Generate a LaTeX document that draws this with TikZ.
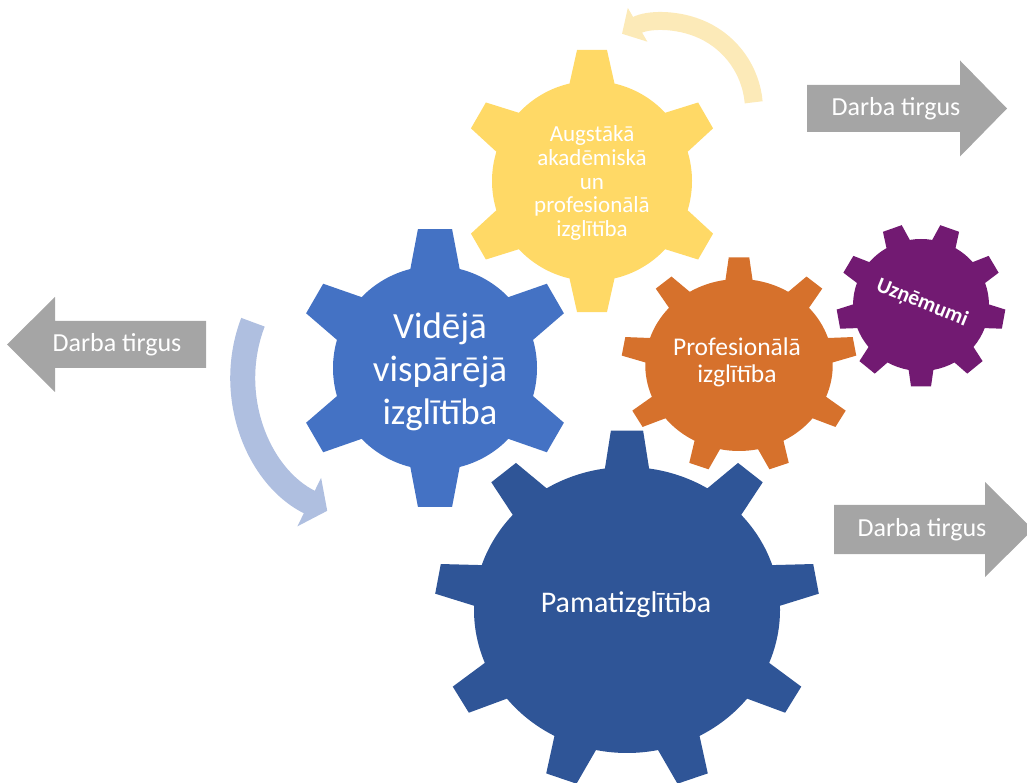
\documentclass[tikz,border=0pt]{standalone}
\usepackage{fontspec}
\setmainfont{Carlito}
\usetikzlibrary{arrows.meta,calc}
\definecolor{pamatblue}{HTML}{2F5597}
\definecolor{videjablue}{HTML}{4472C4}
\definecolor{augstyellow}{HTML}{FFD966}
\definecolor{proforange}{HTML}{D6712C}
\definecolor{uznpurple}{HTML}{721A72}
\definecolor{tirgusgray}{HTML}{A5A5A5}
\definecolor{lightblue}{HTML}{AFBFE0}
\definecolor{lightyellow}{HTML}{FCEAB8}
% teeth, first tooth angle, body radius, outer radius, base half angle, tip half angle
\newcommand{\gearpath}[6]{%
  (#2-#5:#3)
  \foreach \k [evaluate=\k as \a using #2+(\k-1)*360/#1,
               evaluate=\k as \b using #2+\k*360/#1] in {1,...,#1}
  { -- (\a-#6:#4) -- (\a+#6:#4) -- (\a+#5:#3)
    arc[start angle=\a+#5, end angle=\b-#5, radius=#3] }
  -- cycle}
% tail x, head base x, tip x, mid y, body half height, head half height
\newcommand{\tirguspath}[6]{%
  (#1,#4-#5) -- (#2,#4-#5) -- (#2,#4-#6) -- (#3,#4)
  -- (#2,#4+#6) -- (#2,#4+#5) -- (#1,#4+#5) -- cycle}
\tikzset{
  gearlabel/.style={text=white, align=center, inner sep=0pt},
  tirguslabel/.style={text=white, inner sep=0pt, font=\fontsize{26}{31}\selectfont},
  swirl/.style={line width=#1pt}
}

\begin{document}
\begin{tikzpicture}[x=1pt,y=1pt]
  \useasboundingbox (0,0) rectangle (1027,782);
  \coordinate (pc) at (627,172);
  \coordinate (vc) at (435,414);
  \coordinate (ac) at (592,601);
  \coordinate (oc) at (739,417);
  \coordinate (uc) at (921,477);

  \fill[tirgusgray] \tirguspath{206}{55}{7}{437.5}{23.5}{47.5};
  \fill[tirgusgray] \tirguspath{807}{960}{1007}{673.5}{23.5}{48};
  \fill[tirgusgray] \tirguspath{834}{985}{1033}{252.5}{24.5}{47.5};

  \begin{scope}[shift={(pc)}, xscale=1.07]
    \fill[pamatblue] \gearpath{9}{90}{143}{180}{8.3}{4.8};
  \end{scope}
  \begin{scope}[shift={(vc)}]
    \fill[videjablue] \gearpath{6}{90}{102}{140}{14}{7};
  \end{scope}
  \begin{scope}[shift={(ac)}]
    \fill[augstyellow] \gearpath{6}{90}{100}{132}{13}{6.5};
  \end{scope}
  \begin{scope}[shift={(oc)}, xscale=1.09]
    \fill[proforange] \gearpath{9}{90}{86}{108}{8.3}{5};
  \end{scope}
  \begin{scope}[shift={(uc)}, xscale=1.03]
    \fill[uznpurple] \gearpath{9}{30}{66}{82}{10.5}{6.8};
  \end{scope}

  \draw[lightblue, swirl=25, -{Triangle[length=20pt,width=53pt]}]
    ($(393,406)+(159:150)$) arc[start angle=159, end angle=244, radius=150];
  \draw[lightyellow, swirl=18, -{Triangle[length=18pt,width=38pt]}]
    ($(666,672)+(5:88)$) arc[start angle=5, end angle=120, radius=88];

  \node[gearlabel, font=\fontsize{30}{36}\selectfont] (pamat) at (626,177) {Pamatizglītība};
  \node[gearlabel, font=\fontsize{37}{43}\selectfont] (videja) at (440,410) {Vidējā\\vispārējā\\izglītība};
  \node[gearlabel, font=\fontsize{23}{23.8}\selectfont] (augst) at (592,599) {Augstākā\\akadēmiskā\\un\\profesionālā\\izglītība};
  \node[gearlabel, font=\fontsize{25.5}{27}\selectfont] (prof) at (737,420) {Profesionālā\\izglītība};
  \node[gearlabel, font=\bfseries\fontsize{21.5}{26}\selectfont, rotate=-22] (uzn) at (922,479) {Uzņēmumi};

  \node[tirguslabel] (tirgusL) at (117,437) {Darba tirgus};
  \node[tirguslabel] (tirgusA) at (896,673) {Darba tirgus};
  \node[tirguslabel] (tirgusB) at (922,252) {Darba tirgus};
\end{tikzpicture}
\end{document}
